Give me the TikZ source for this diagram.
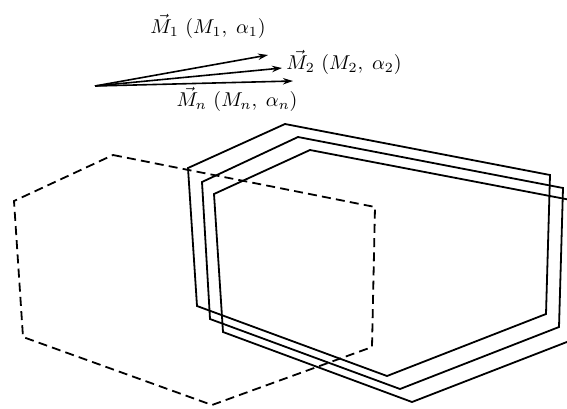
\documentclass[tikz,border=0pt]{standalone}
\usepackage{amsmath}
\usetikzlibrary{arrows.meta}

\begin{document}
\begin{tikzpicture}[
  x=0.5pt, y=-0.5pt,
  every node/.style={font=\normalsize},
  hexline/.style={line width=0.9pt, line join=miter},
  dashhex/.style={hexline, dash pattern=on 4.5pt off 2.6pt},
  vecarr/.style={-{Stealth[length=5pt, width=3.2pt]}, line width=0.8pt},
  lbl/.style={inner sep=1pt}
]
\useasboundingbox (0,0) rectangle (567,408);
\clip (0,0) rectangle (567,408);

% Moment vectors
\coordinate (o)  at (95,86);
\coordinate (t1) at (268,55);
\coordinate (t2) at (282,68);
\coordinate (tn) at (293,81);
\draw[vecarr] (o) -- (t1);
\draw[vecarr] (o) -- (t2);
\draw[vecarr] (o) -- (tn);
\node[lbl] (l1) at (208,26) {$\vec{M}_1\ (M_1,\;\alpha_1)$};
\node[lbl, anchor=west] (l2) at (284,62) {$\vec{M}_2\ (M_2,\;\alpha_2)$};
\node[lbl] (ln) at (237,99) {$\vec{M}_n\ (M_n,\;\alpha_n)$};

% Initial position (dashed)
\draw[dashhex] (113,155) -- (375,207) -- (372,347) -- (212,405)
  -- (23,337) -- (14,201) -- cycle;

% Displaced positions
\draw[hexline] (188,168) -- (285,124) -- (550,175) -- (546,314)
  -- (387,376) -- (197,306) -- cycle;
\draw[hexline] (202,182) -- (298,137) -- (563,188) -- (559,327)
  -- (400,389) -- (210,319) -- cycle;
\draw[hexline] (214,194) -- (310,150) -- (576,201) -- (572,340)
  -- (412,402) -- (223,332) -- cycle;
\end{tikzpicture}
\end{document}
